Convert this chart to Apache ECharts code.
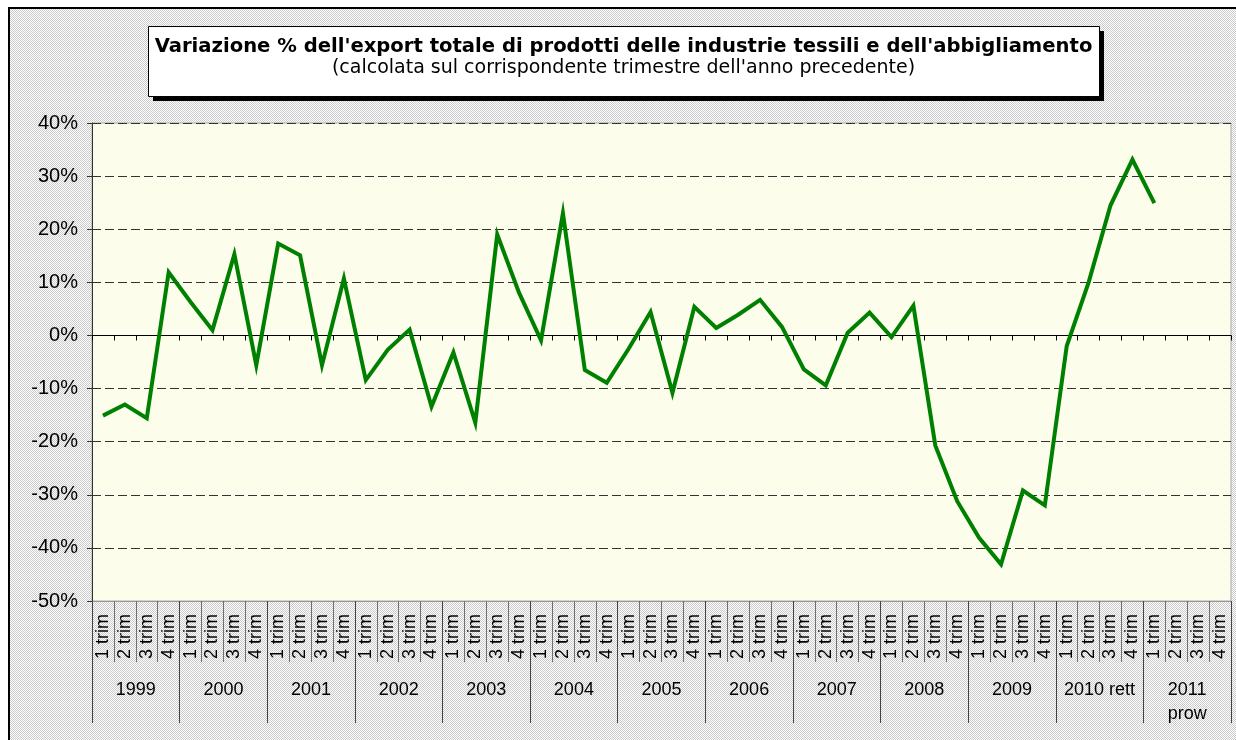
<!DOCTYPE html>
<html>
<head>
<meta charset="utf-8">
<script src="https://cdn.jsdelivr.net/npm/echarts@6/dist/echarts.min.js"></script>
<style>
html,body{margin:0;padding:0;background:#fff;}
#chart{width:1236px;height:740px;}
</style>
</head>
<body>
<div id="chart"></div>
<script>
// ---- data ----
const years = ['1999','2000','2001','2002','2003','2004','2005','2006','2007','2008','2009','2010 rett','2011\nprow'];
const quarterNames = ['1 trim','2 trim','3 trim','4 trim'];
const yTicks = [-50,-40,-30,-20,-10,0,10,20,30,40];
const values = [
  -15.1, -13.0, -15.6, 11.9,   // 1999
   6.3,   1.0,  15.3,  -5.6,   // 2000
  17.3,  15.1,  -5.6,  10.7,   // 2001
  -8.4,  -2.7,   1.1, -13.4,   // 2002
  -3.2, -16.4,  19.0,   8.0,   // 2003
  -0.9,  23.0,  -6.5,  -8.9,   // 2004
  -2.5,   4.4, -10.8,   5.4,   // 2005
   1.4,   3.9,   6.7,   1.6,   // 2006
  -6.4,  -9.4,   0.5,   4.3,   // 2007
  -0.3,   5.6, -20.7, -31.2,   // 2008
 -38.1, -43.1, -29.2, -32.0,   // 2009
  -2.0,  10.0,  24.5,  33.1,   // 2010 rett
  24.9,  null,  null,  null    // 2011 prow
];
const titleText = "Variazione % dell'export totale di prodotti delle industrie tessili e dell'abbigliamento";
const subtitleText = "(calcolata sul corrispondente trimestre dell'anno precedente)";

const quarters = [];
years.forEach(function(y){ quarterNames.forEach(function(q){ quarters.push(q); }); });

// dotted background pattern
const pc = document.createElement('canvas');
pc.width = 2; pc.height = 2;
const pctx = pc.getContext('2d');
pctx.fillStyle = '#ffffff'; pctx.fillRect(0,0,2,2);
pctx.fillStyle = '#cacaca'; pctx.fillRect(0,0,1,1); pctx.fillRect(1,1,1,1);

const FONT = '"Liberation Sans", Arial, sans-serif';
const TFONT = '"DejaVu Sans", "Liberation Sans", sans-serif';

const chart = echarts.init(document.getElementById('chart'));
chart.setOption({
  animation: false,
  backgroundColor: {image: pc, repeat: 'repeat'},
  textStyle: {fontFamily: FONT},
  title: {
    text: titleText,
    subtext: subtitleText,
    left: 623.5,
    textAlign: 'center',
    top: 37,
    padding: 0,
    itemGap: 2,
    textStyle: {fontFamily: TFONT, fontSize: 19.6, fontWeight: 'bold', color: '#000'},
    subtextStyle: {fontFamily: TFONT, fontSize: 19, color: '#000'}
  },
  graphic: [
    {type: 'rect', shape: {x: 0, y: 0, width: 1236, height: 8}, style: {fill: '#fff'}, z: -5, silent: true},
    {type: 'rect', shape: {x: 0, y: 0, width: 9, height: 740}, style: {fill: '#fff'}, z: -5, silent: true},
    {type: 'rect', shape: {x: 9, y: 8, width: 1240, height: 740}, style: {fill: 'none', stroke: '#000', lineWidth: 2}, z: -4, silent: true},
    {type: 'rect', shape: {x: 153, y: 31, width: 951, height: 70}, style: {fill: '#000'}, z: -3, silent: true},
    {type: 'rect', shape: {x: 148.5, y: 26.5, width: 951, height: 70},
     style: {fill: '#fff', stroke: '#000', lineWidth: 1}, z: -2, silent: true}
  ],
  grid: {
    left: 92, right: 5, top: 123, bottom: 139,
    show: true, backgroundColor: '#fdfdec', borderColor: '#a8a8a8', borderWidth: 1
  },
  yAxis: {
    type: 'value', min: -50, max: 40, interval: 10,
    axisLine: {show: true, lineStyle: {color: '#333', width: 1}},
    axisTick: {show: true, length: 5, lineStyle: {color: '#333'}},
    axisLabel: {margin: 14, fontSize: 20, color: '#000', fontFamily: FONT,
      formatter: function(v){ return yTicks.indexOf(v) >= 0 ? v + '%' : ''; }},
    splitLine: {show: true, lineStyle: {color: '#333', type: [9,4], width: 1}}
  },
  xAxis: [
    { // zero line with ticks
      type: 'category', data: quarters, position: 'bottom', boundaryGap: true,
      axisLine: {show: true, onZero: true, lineStyle: {color: '#000', width: 1}},
      axisTick: {show: true, length: 5, interval: 0, lineStyle: {color: '#000'}},
      axisLabel: {show: false},
      splitLine: {show: false}
    },
    { // quarter labels at bottom
      type: 'category', data: quarters, position: 'bottom', boundaryGap: true,
      axisLine: {show: true, onZero: false, lineStyle: {color: '#999', width: 1}},
      axisTick: {show: true, length: 61, interval: 0, lineStyle: {color: '#707070'}},
      axisLabel: {show: true, interval: 0, rotate: 90, margin: 13, fontSize: 18, color: '#000', fontFamily: FONT},
      splitLine: {show: false}
    },
    { // year labels
      type: 'category', data: years, position: 'bottom', boundaryGap: true,
      axisLine: {show: false, onZero: false},
      axisTick: {show: true, length: 122, interval: 0, lineStyle: {color: '#444'}},
      axisLabel: {show: true, interval: 0, margin: 77, fontSize: 18, lineHeight: 24, color: '#000', fontFamily: FONT},
      splitLine: {show: false}
    }
  ],
  series: [{
    type: 'line', xAxisIndex: 0, data: values,
    symbol: 'none', connectNulls: false,
    lineStyle: {color: '#008000', width: 4, join: 'miter'},
    itemStyle: {color: '#008000'}
  }]
});
</script>
</body>
</html>
